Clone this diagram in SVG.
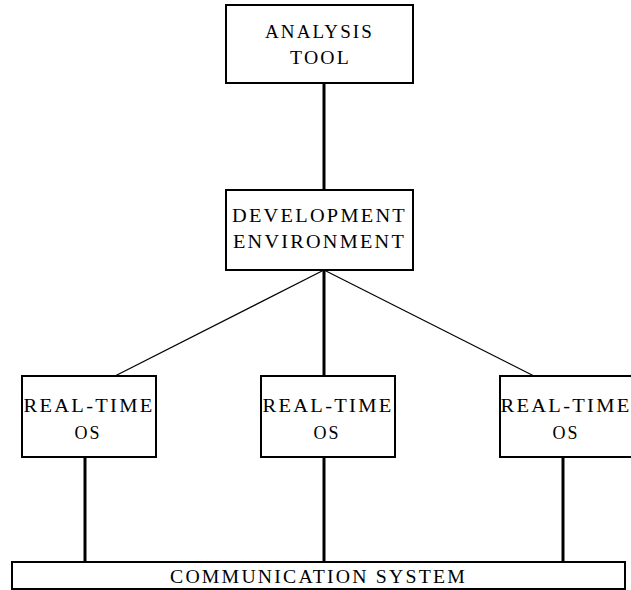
<svg xmlns="http://www.w3.org/2000/svg" width="631" height="590" viewBox="0 0 631 590">
<style>
.box{fill:#fff;stroke:#000;stroke-width:2}
.t{font-family:"Liberation Serif","DejaVu Serif",serif;font-size:18px;letter-spacing:2px;fill:#000;text-anchor:middle}
.thick{stroke:#000;stroke-width:3;fill:none}
.thin{stroke:#000;stroke-width:1.2;fill:none}
</style>
<rect x="0" y="0" width="631" height="590" fill="#fff"/>
<g id="connectors">
<line class="thick" x1="324" y1="83" x2="324" y2="190"/>
<line class="thin" x1="324" y1="270" x2="115" y2="376"/>
<line class="thick" x1="324" y1="270" x2="324" y2="376"/>
<line class="thin" x1="324" y1="270" x2="534" y2="376"/>
<line class="thick" x1="85" y1="457" x2="85" y2="562"/>
<line class="thick" x1="324" y1="457" x2="324" y2="562"/>
<line class="thick" x1="563" y1="457" x2="563" y2="562"/>
</g>
<g id="analysis">
<rect class="box" x="226" y="5" width="187" height="78"/>
<text class="t" x="319.5" y="38" textLength="109" lengthAdjust="spacingAndGlyphs">ANALYSIS</text>
<text class="t" x="320.5" y="64" textLength="61" lengthAdjust="spacingAndGlyphs">TOOL</text>
</g>
<g id="devenv">
<rect class="box" x="226" y="190" width="187" height="80"/>
<text class="t" x="319.5" y="222" textLength="175" lengthAdjust="spacingAndGlyphs">DEVELOPMENT</text>
<text class="t" x="319.5" y="248" textLength="173" lengthAdjust="spacingAndGlyphs">ENVIRONMENT</text>
</g>
<g id="rtos1">
<rect class="box" x="22" y="376" width="134" height="81"/>
<text class="t" x="89" y="412" textLength="131" lengthAdjust="spacingAndGlyphs">REAL-TIME</text>
<text class="t" x="88" y="439" textLength="27" lengthAdjust="spacingAndGlyphs">OS</text>
</g>
<g id="rtos2">
<rect class="box" x="261" y="376" width="134" height="81"/>
<text class="t" x="328" y="412" textLength="131" lengthAdjust="spacingAndGlyphs">REAL-TIME</text>
<text class="t" x="327" y="439" textLength="27" lengthAdjust="spacingAndGlyphs">OS</text>
</g>
<g id="rtos3">
<rect class="box" x="500" y="376" width="134" height="81"/>
<text class="t" x="566" y="412" textLength="131" lengthAdjust="spacingAndGlyphs">REAL-TIME</text>
<text class="t" x="566" y="439" textLength="27" lengthAdjust="spacingAndGlyphs">OS</text>
</g>
<g id="comm">
<rect class="box" x="12" y="562" width="613" height="27"/>
<text class="t" x="318.5" y="583" textLength="297" lengthAdjust="spacingAndGlyphs">COMMUNICATION SYSTEM</text>
</g>
</svg>
